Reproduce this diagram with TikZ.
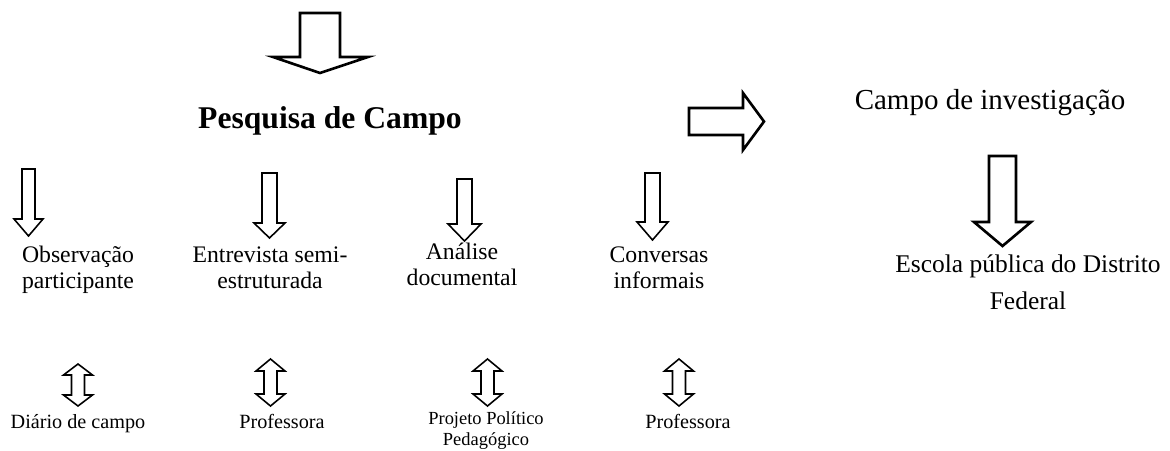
\documentclass[tikz,border=0pt]{standalone}
\usepackage{fontspec}
\setmainfont{Liberation Serif}
\usetikzlibrary{positioning}

\begin{document}
\begin{tikzpicture}[x=0.02cm, y=-0.02cm]
    \tikzstyle{bigarrow} = [draw, line width=1.5pt, fill=white]
    \tikzstyle{smallarrow} = [draw, line width=0.9pt, fill=white]

    % base = last line of the label
    \tikzstyle{label} = [align=center, anchor=base, inner sep=0pt]
    \tikzstyle{title} = [label, font=\fontsize{18}{20}\selectfont\bfseries]
    \tikzstyle{field} = [label, font=\fontsize{16.5}{18}\selectfont]
    \tikzstyle{school} = [label, font=\fontsize{14.5}{21}\selectfont]
    \tikzstyle{method} = [label, font=\fontsize{13.5}{14.6}\selectfont]
    \tikzstyle{source} = [label, font=\fontsize{11.5}{13}\selectfont]
    \tikzstyle{small_source} = [label, font=\fontsize{10.5}{11.4}\selectfont]

    \useasboundingbox (0,0) rectangle (1170,450);

    % Top arrow
    \draw[bigarrow] (300,13) -- (340,13) -- (340,57) -- (368,57) -- (320,73)
        -- (273,57) -- (300,57) -- cycle;

    \node[title] (pesquisa) at (330,128) {Pesquisa de Campo};

    % Right arrow
    \draw[bigarrow] (689,108) -- (743,108) -- (743,93) -- (764,121.5)
        -- (743,150) -- (743,135) -- (689,135) -- cycle;

    \node[field] (campo_inv) at (990,109) {Campo de investigação};

    % Field arrow
    \draw[bigarrow] (989,156) -- (1016,156) -- (1016,222) -- (1031,222)
        -- (1002.5,246) -- (974,222) -- (989,222) -- cycle;

    \node[school] (escola) at (1028,309) {Escola pública do Distrito\\Federal};

    % Method arrows
    \draw[smallarrow] (22,169) -- (35,169) -- (35,219) -- (43,219) -- (28.5,236)
        -- (14,219) -- (22,219) -- cycle;
    \draw[smallarrow] (262,173) -- (277,173) -- (277,223) -- (285,223) -- (269.5,238)
        -- (254,223) -- (262,223) -- cycle;
    \draw[smallarrow] (457,179) -- (472,179) -- (472,224) -- (481,224) -- (464.5,241)
        -- (448,224) -- (457,224) -- cycle;
    \draw[smallarrow] (645,173) -- (660,173) -- (660,222) -- (668,222) -- (652.5,240)
        -- (637,222) -- (645,222) -- cycle;

    % Methods
    \node[method] (obs) at (78,288) {Observação\\participante};
    \node[method] (entrev) at (270,288) {Entrevista semi-\\estruturada};
    \node[method] (analise) at (462,285) {Análise\\documental};
    \node[method] (conversas) at (659,288) {Conversas\\informais};

    % Double arrows
    \draw[smallarrow] (78,364) -- ++(14.5,11) -- ++(-8,0) -- ++(0,20) -- ++(8,0)
        -- ++(-14.5,11) -- ++(-14.5,-11) -- ++(8,0) -- ++(0,-20) -- ++(-8,0) -- cycle;
    \draw[smallarrow] (270.5,359) -- ++(14.5,12) -- ++(-8,0) -- ++(0,23) -- ++(8,0)
        -- ++(-14.5,12) -- ++(-14.5,-12) -- ++(8,0) -- ++(0,-23) -- ++(-8,0) -- cycle;
    \draw[smallarrow] (487.5,359) -- ++(14.5,12) -- ++(-8,0) -- ++(0,23) -- ++(8,0)
        -- ++(-14.5,12) -- ++(-14.5,-12) -- ++(8,0) -- ++(0,-23) -- ++(-8,0) -- cycle;
    \draw[smallarrow] (679,359) -- ++(14.5,12) -- ++(-8,0) -- ++(0,23) -- ++(8,0)
        -- ++(-14.5,12) -- ++(-14.5,-12) -- ++(8,0) -- ++(0,-23) -- ++(-8,0) -- cycle;

    % Sources
    \node[source] (diario) at (78,428) {Diário de campo};
    \node[source] (prof_a) at (282,428) {Professora};
    \node[small_source] (ppp) at (486,445) {Projeto Político\\Pedagógico};
    \node[source] (prof_b) at (688,428) {Professora};

\end{tikzpicture}
\end{document}
